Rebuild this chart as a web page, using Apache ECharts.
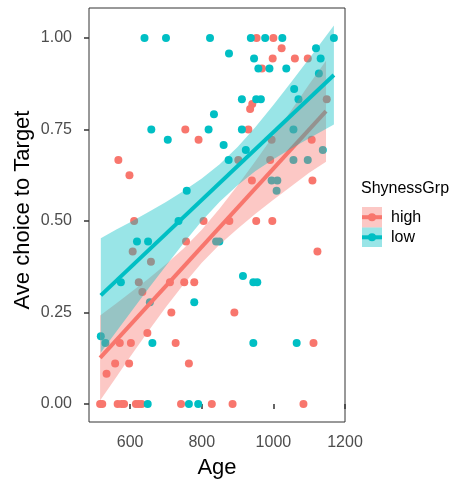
<!DOCTYPE html>
<html>
<head>
<meta charset="utf-8">
<style>
html,body{margin:0;padding:0;background:#fff;}
#chart{width:455px;height:497px;}
</style>
<script src="https://cdn.jsdelivr.net/npm/echarts@6.0.0/dist/echarts.min.js"></script>
</head>
<body>
<div id="chart"></div>
<script>
// ---- data ----
const groups = ['high', 'low'];
const xTicks = [600, 800, 1000, 1200];
const yTicks = [0, 0.25, 0.5, 0.75, 1];

const highAge = [953,1000,1023,998,1060,1096,968,1149,941,935,754,930,791,995,1107,567,902,991,598,940,1109,611,805,877,952,997,756,607,1123,658,624,711,751,779,634,715,891,648,571,602,727,1112,558,597,764,534,516,522,565,576,583,616,624,632,742,828,886,1084];
const highChoice = [1,1,0.972,0.944,0.944,0.944,0.917,0.833,0.82,0.806,0.75,0.75,0.722,0.722,0.722,0.667,0.667,0.667,0.625,0.611,0.611,0.5,0.5,0.5,0.5,0.5,0.444,0.417,0.417,0.389,0.333,0.333,0.333,0.333,0.306,0.25,0.25,0.194,0.167,0.167,0.167,0.167,0.111,0.111,0.111,0.083,0,0,0,0,0,0,0,0,0,0,0,0];

const lowAge = [640,700,823,937,977,1025,1169,1119,876,946,1132,958,989,1036,1127,1058,912,952,965,1070,834,659,819,912,1056,705,861,923,1138,875,1056,1096,995,1011,758,1009,735,619,650,840,849,915,574,944,955,655,779,518,531,662,944,1065,649,764,790];
const lowChoice = [1,1,1,1,1,1,1,0.972,0.958,0.944,0.944,0.917,0.917,0.917,0.903,0.861,0.833,0.833,0.833,0.833,0.792,0.75,0.75,0.75,0.75,0.722,0.708,0.694,0.694,0.667,0.667,0.667,0.611,0.611,0.583,0.583,0.5,0.444,0.444,0.444,0.444,0.35,0.333,0.333,0.333,0.278,0.278,0.185,0.167,0.167,0.167,0.167,0,0,0];

// fitted lines (end points) and confidence bands
const highLineX = [516, 1147];
const highLineY = [0.126, 0.800];
const highBandX = [516,560,600,650,700,750,800,850,900,950,1000,1050,1100,1147];
const highBandLo = [0.010,0.072,0.129,0.198,0.265,0.328,0.386,0.436,0.479,0.520,0.558,0.595,0.632,0.662];
const highBandHi = [0.242,0.274,0.304,0.342,0.382,0.426,0.476,0.534,0.597,0.664,0.733,0.803,0.874,0.938];

const lowLineX = [518, 1169];
const lowLineY = [0.297, 0.899];
const lowBandX = [518,560,600,650,700,750,800,850,900,950,1000,1050,1100,1169];
const lowBandLo = [0.141,0.196,0.249,0.314,0.378,0.441,0.500,0.553,0.598,0.637,0.669,0.698,0.726,0.764];
const lowBandHi = [0.453,0.476,0.497,0.524,0.552,0.583,0.616,0.655,0.702,0.757,0.817,0.880,0.944,1.034];

const RED = '#F8766D', CYAN = '#00BFC4';
const FONT = 'Liberation Sans';

function zip(a, b) { return a.map((v, i) => [v, b[i]]); }

function bandSeries(xs, lo, hi, color, z) {
  return {
    type: 'custom',
    z: z,
    silent: true,
    data: [[xs[0], lo[0]]],
    renderItem: function (params, api) {
      const pts = [];
      for (let i = 0; i < xs.length; i++) pts.push(api.coord([xs[i], hi[i]]));
      for (let i = xs.length - 1; i >= 0; i--) pts.push(api.coord([xs[i], lo[i]]));
      return { type: 'polygon', shape: { points: pts }, style: { fill: color, opacity: 0.4 } };
    }
  };
}

function lineSeries(xs, ys, color, z) {
  return {
    type: 'line', z: z, silent: true, showSymbol: false,
    data: zip(xs, ys),
    lineStyle: { color: color, width: 4 }
  };
}

const chart = echarts.init(document.getElementById('chart'), null, { renderer: 'canvas' });
chart.setOption({
  animation: false,
  backgroundColor: '#fff',
  grid: { left: 89, right: 110, top: 8, bottom: 75, show: true, borderColor: '#333', borderWidth: 1, backgroundColor: 'transparent' },
  xAxis: {
    type: 'value', min: 485, max: 1200,
    axisLine: { show: false },
    splitLine: { show: false },
    axisTick: { show: true, customValues: xTicks, length: 5, lineStyle: { color: '#333', width: 1.5 } },
    axisLabel: { customValues: xTicks, color: '#4D4D4D', fontSize: 16, fontFamily: FONT, margin: 13,
      formatter: v => String(v) }
  },
  yAxis: {
    type: 'value', min: -0.049, max: 1.082,
    axisLine: { show: false },
    splitLine: { show: false },
    axisTick: { show: true, customValues: yTicks, length: 5, lineStyle: { color: '#333', width: 1.5 } },
    axisLabel: { customValues: yTicks, color: '#4D4D4D', fontSize: 16, fontFamily: FONT, margin: 17,
      formatter: v => Number(v).toFixed(2) }
  },
  series: [
    { type: 'scatter', z: 1, symbolSize: 8, data: zip(highAge, highChoice), itemStyle: { color: RED, opacity: 1 } },
    { type: 'scatter', z: 1, symbolSize: 8, data: zip(lowAge, lowChoice), itemStyle: { color: CYAN, opacity: 1 } },
    bandSeries(highBandX, highBandLo, highBandHi, RED, 2),
    lineSeries(highLineX, highLineY, RED, 3),
    bandSeries(lowBandX, lowBandLo, lowBandHi, CYAN, 4),
    lineSeries(lowLineX, lowLineY, CYAN, 5)
  ],
  graphic: [
    { type: 'text', x: 217, y: 468, style: { text: 'Age', fontSize: 22, fontFamily: FONT, fill: '#000', align: 'center', verticalAlign: 'middle' } },
    { type: 'text', x: 23, y: 210, rotation: Math.PI / 2, style: { text: 'Ave choice to Target', fontSize: 22, fontFamily: FONT, fill: '#000', align: 'center', verticalAlign: 'middle' } },
    { type: 'text', x: 361, y: 189, style: { text: 'ShynessGrp', fontSize: 16, fontFamily: FONT, fill: '#000', align: 'left', verticalAlign: 'middle' } },
    { type: 'rect', shape: { x: 362, y: 207, width: 20, height: 20.5 }, style: { fill: RED, opacity: 0.4 } },
    { type: 'line', shape: { x1: 362, y1: 217.2, x2: 382, y2: 217.2 }, style: { stroke: RED, lineWidth: 4 } },
    { type: 'circle', shape: { cx: 372, cy: 217.2, r: 4 }, style: { fill: RED } },
    { type: 'rect', shape: { x: 362, y: 227.5, width: 20, height: 19.5 }, style: { fill: CYAN, opacity: 0.4 } },
    { type: 'line', shape: { x1: 362, y1: 237.3, x2: 382, y2: 237.3 }, style: { stroke: CYAN, lineWidth: 4 } },
    { type: 'circle', shape: { cx: 372, cy: 237.3, r: 4 }, style: { fill: CYAN } },
    { type: 'text', x: 391, y: 217.5, style: { text: groups[0], fontSize: 16, fontFamily: FONT, fill: '#000', align: 'left', verticalAlign: 'middle' } },
    { type: 'text', x: 391, y: 237.5, style: { text: groups[1], fontSize: 16, fontFamily: FONT, fill: '#000', align: 'left', verticalAlign: 'middle' } }
  ]
});
</script>
</body>
</html>
